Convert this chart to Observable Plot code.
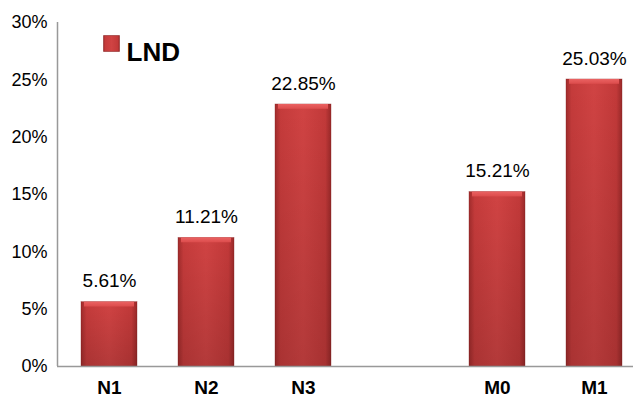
<!DOCTYPE html>
<html>
<head>
<meta charset="utf-8">
<script src="https://cdn.jsdelivr.net/npm/d3@7"></script>
<script src="https://cdn.jsdelivr.net/npm/@observablehq/plot@0.6"></script>
<style>
  html, body { margin: 0; padding: 0; background: #fff; }
  svg { font-family: "Liberation Sans", Arial, sans-serif; }
</style>
</head>
<body>
<div id="chart"></div>
<script>
const categories = ["N1", "N2", "N3", "", "M0", "M1"];
const values = [0.0561, 0.1121, 0.2285, null, 0.1521, 0.2503];
const yTicks = [0, 0.05, 0.10, 0.15, 0.20, 0.25, 0.30];
const seriesName = "LND";

const data = categories.map((c, i) => ({cat: c === "" ? "gap" : c, label: c, v: values[i]}))
  .filter(d => d.v != null);
const domain = categories.map(c => c === "" ? "gap" : c);

const defs = () => {
  const s = d3.create("svg:defs");
  const g = s.append("linearGradient").attr("id", "barGrad").attr("x1", 0).attr("x2", 1).attr("y1", 0).attr("y2", 0);
  g.append("stop").attr("offset", "0%").attr("stop-color", "#a12c2c");
  g.append("stop").attr("offset", "10%").attr("stop-color", "#c53b3b");
  g.append("stop").attr("offset", "50%").attr("stop-color", "#d04343");
  g.append("stop").attr("offset", "90%").attr("stop-color", "#c23939");
  g.append("stop").attr("offset", "100%").attr("stop-color", "#9a2929");
  const sh = s.append("linearGradient").attr("id", "shade").attr("x1", 0).attr("x2", 0).attr("y1", 0).attr("y2", 1);
  sh.append("stop").attr("offset", "0%").attr("stop-color", "#000").attr("stop-opacity", 0);
  sh.append("stop").attr("offset", "100%").attr("stop-color", "#000").attr("stop-opacity", 0.14);
  const t = s.append("linearGradient").attr("id", "topGrad").attr("x1", 0).attr("x2", 0).attr("y1", 0).attr("y2", 1);
  t.append("stop").attr("offset", "0%").attr("stop-color", "#ea6262");
  t.append("stop").attr("offset", "100%").attr("stop-color", "#dc4c4c");
  return s.node();
};

const yAxisLine = (index, scales, values, dimensions) => {
  const x = dimensions.marginLeft + 0.5;
  return d3.create("svg:line")
    .attr("x1", x).attr("x2", x)
    .attr("y1", scales.y(0.30)).attr("y2", scales.y(0))
    .attr("stroke", "#999").attr("stroke-width", 1.5).node();
};

const chart = Plot.plot({
  width: 633,
  height: 398,
  marginLeft: 57,
  marginRight: 0,
  marginTop: 22,
  marginBottom: 32,
  style: {fontFamily: "Liberation Sans, Arial, sans-serif", background: "#fff", color: "#000"},
  x: {domain, range: [57.5, 645], paddingInner: 0.42, paddingOuter: 0.21, label: null},
  y: {domain: [0, 0.30], label: null},
  marks: [
    defs,
    Plot.barY(data, {x: "cat", y: "v", fill: "url(#barGrad)", stroke: "#8a2222", strokeWidth: 0.6, strokeOpacity: 0.6}),
    Plot.barY(data, {x: "cat", y: "v", fill: "url(#shade)"}),
    Plot.barY(data, {x: "cat", y1: d => d.v, y2: d => d.v - 0.0042, fill: "url(#topGrad)", insetLeft: 3, insetRight: 3}),
    Plot.ruleY([0], {stroke: "#999", strokeWidth: 1.5}),
    yAxisLine,
    Plot.axisY({ticks: yTicks, tickSize: 0, tickPadding: 10, tickFormat: d => Math.round(d * 100) + "%", fontSize: 18, label: null}),
    Plot.axisX({tickSize: 0, tickPadding: 14, tickFormat: d => d === "gap" ? "" : d, fontSize: 19, fontWeight: "bold", label: null}),
    Plot.text(data, {x: "cat", y: "v", text: d => (d.v * 100).toFixed(2) + "%", dy: -21, fontSize: 19, fill: "#000"}),
    Plot.dot([seriesName], {frameAnchor: "top-left", dx: 54, dy: 21, symbol: "square", r: 9, fill: "url(#barGrad)", stroke: "#8a2222", strokeWidth: 0.6}),
    Plot.text([seriesName], {frameAnchor: "top-left", dx: 69, dy: 20, text: d => d, fontSize: 26, fontWeight: "bold", textAnchor: "start", fill: "#000"})
  ]
});
document.getElementById("chart").appendChild(chart);
</script>
</body>
</html>
